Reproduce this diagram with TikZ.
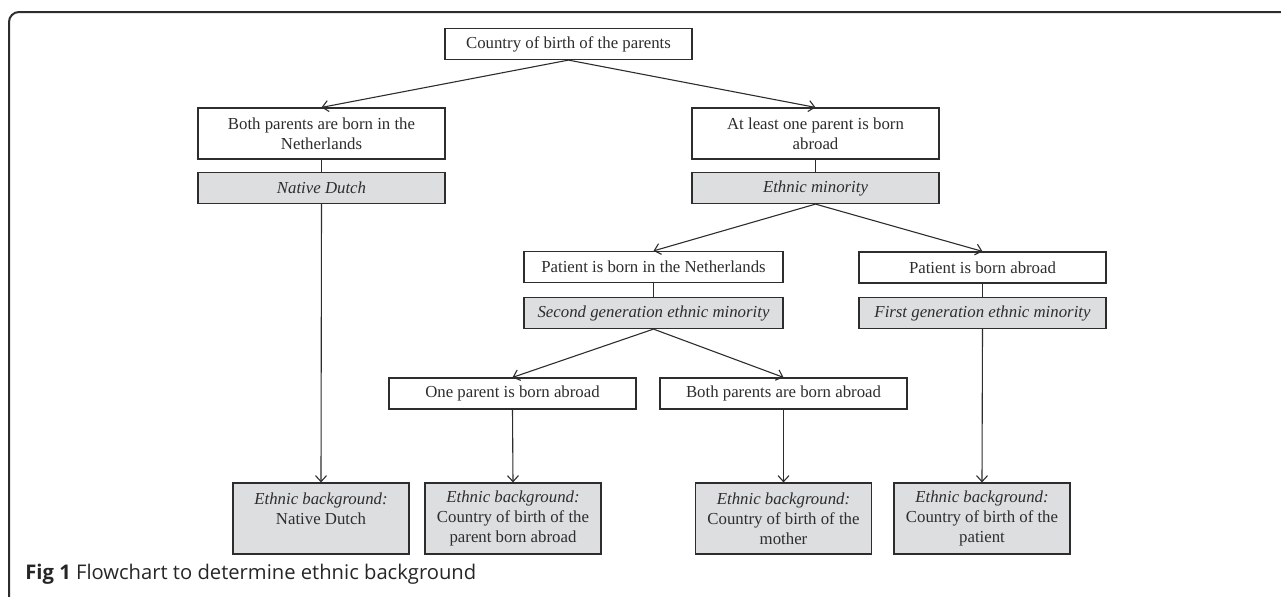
\documentclass[tikz,border=0pt]{standalone}
\usepackage{fontspec}
\setmainfont{Liberation Serif}
\newfontfamily\capfont{Open Sans}
\usetikzlibrary{arrows.meta}
\definecolor{boxgray}{RGB}{221,222,224}
\definecolor{linegray}{RGB}{45,45,45}
\begin{document}
\begin{tikzpicture}[x=0.5pt, y=-0.5pt,
  font=\fontsize{8.4}{10}\selectfont,
  every node/.style={text=linegray},
  whitebox/.style={draw=linegray, line width=0.6pt, fill=white, minimum width=123.5pt, minimum height=15.5pt, inner sep=1pt, align=center},
  greybox/.style={whitebox, fill=boxgray, font=\fontsize{8.4}{10}\selectfont\itshape},
  endbox/.style={draw=linegray, line width=0.6pt, fill=boxgray, minimum width=88pt, minimum height=35.5pt, inner sep=1pt, align=center},
  arr/.style={draw=linegray, line width=0.55pt, -{Straight Barb[length=3pt,width=5.5pt]}},
  link/.style={draw=linegray, line width=0.55pt}]

\useasboundingbox (0,0) rectangle (1281,596);

% frame
\draw[linegray, line width=1pt, rounded corners=5pt] (9,597) -- (9,12) -- (1282,12);

% first level
\node[whitebox] (parents) at (568.5,44) {Country of birth of the parents};
\node[whitebox, minimum height=25.5pt] (bothnl) at (321.5,133.5) {Both parents are born in the\\Netherlands};
\node[greybox] (dutch) at (321.5,188) {Native Dutch};
\node[whitebox, minimum height=25.5pt] (oneabroad) at (815.5,133.5) {At least one parent is born\\abroad};
\node[greybox] (minority) at (815.5,188) {Ethnic minority};

% second level
\node[whitebox, minimum width=129.5pt] (patnl) at (653.5,267) {Patient is born in the Netherlands};
\node[greybox, minimum width=129.5pt] (second) at (653.5,313) {Second generation ethnic minority};
\node[whitebox] (patabroad) at (982.5,267.5) {Patient is born abroad};
\node[greybox] (first) at (982.5,313) {First generation ethnic minority};

% third level
\node[whitebox] (oneparent) at (512.5,393.5) {One parent is born abroad};
\node[whitebox] (bothparents) at (783.5,393.5) {Both parents are born abroad};

% ethnic background
\node[endbox] (bgdutch) at (321,518.5) {\textit{Ethnic background:}\\Native Dutch\\\mbox{}};
\node[endbox] (bgparent) at (513,518.5) {\textit{Ethnic background:}\\Country of birth of the\\parent born abroad};
\node[endbox] (bgmother) at (783.5,518.5) {\textit{Ethnic background:}\\Country of birth of the\\mother};
\node[endbox] (bgpatient) at (982,518.5) {\textit{Ethnic background:}\\Country of birth of the\\patient};

% connectors
\draw[arr] (parents.south) -- (bothnl.north);
\draw[arr] (parents.south) -- (oneabroad.north);
\draw[link] (bothnl) -- (dutch);
\draw[link] (oneabroad) -- (minority);
\draw[arr] (minority.south) -- (patnl.north);
\draw[arr] (minority.south) -- (patabroad.north);
\draw[link] (patnl) -- (second);
\draw[link] (patabroad) -- (first);
\draw[arr] (second.south) -- (oneparent.north);
\draw[arr] (second.south) -- (bothparents.north);
\draw[arr] (dutch.south) -- (bgdutch.north);
\draw[arr] (oneparent.south) -- (bgparent.north);
\draw[arr] (bothparents.south) -- (bgmother.north);
\draw[arr] (first.south) -- (bgpatient.north);

% caption
\node[anchor=base west, inner sep=0pt, font=\capfont\fontsize{10.1}{12}\selectfont, text=black!85] (caption) at (25,579) {\textbf{Fig 1} Flowchart to determine ethnic background};

\end{tikzpicture}
\end{document}
